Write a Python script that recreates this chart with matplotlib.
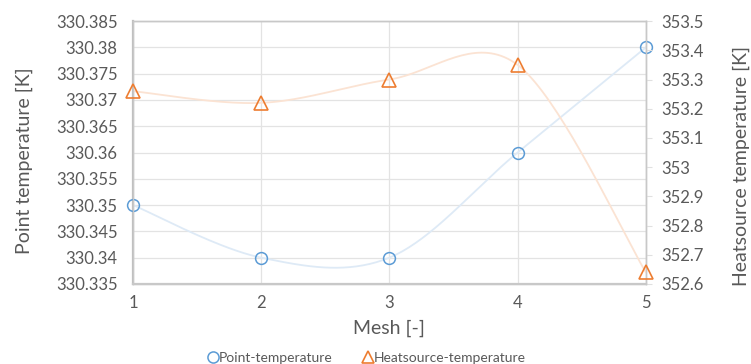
import matplotlib
matplotlib.use("Agg")
import matplotlib.pyplot as plt
from matplotlib.lines import Line2D
import numpy as np

plt.rcParams['font.family'] = ['Lato', 'DejaVu Sans']

mesh = [1, 2, 3, 4, 5]
point_temp = [330.35, 330.34, 330.34, 330.36, 330.38]
heat_temp = [353.26, 353.22, 353.30, 353.35, 352.64]

left_ticks = [330.335, 330.34, 330.345, 330.35, 330.355, 330.36, 330.365,
              330.37, 330.375, 330.38, 330.385]
left_labels = ['330.335', '330.34', '330.345', '330.35', '330.355', '330.36',
               '330.365', '330.37', '330.375', '330.38', '330.385']
right_ticks = [352.6, 352.7, 352.8, 352.9, 353.0, 353.1, 353.2, 353.3, 353.4, 353.5]
right_labels = ['352.6', '352.7', '352.8', '352.9', '353', '353.1', '353.2',
                '353.3', '353.4', '353.5']

txt = '#595959'
grid = '#e3e3e3'
blue = '#5b9bd5'
orange = '#ed7d31'


def smooth(x, y, n=40):
    # excel-like bezier smoothing (catmull-rom control points)
    x = np.asarray(x, float)
    y = np.asarray(y, float)
    px = np.concatenate([[x[0]], x, [x[-1]]])
    py = np.concatenate([[y[0]], y, [y[-1]]])
    xs, ys = [], []
    t = np.linspace(0, 1, n)
    for i in range(1, len(px) - 2):
        x0, x1, x2, x3 = px[i - 1], px[i], px[i + 1], px[i + 2]
        y0, y1, y2, y3 = py[i - 1], py[i], py[i + 1], py[i + 2]
        c1x, c1y = x1 + (x2 - x0) / 6, y1 + (y2 - y0) / 6
        c2x, c2y = x2 - (x3 - x1) / 6, y2 - (y3 - y1) / 6
        b = [(1 - t) ** 3, 3 * (1 - t) ** 2 * t, 3 * (1 - t) * t ** 2, t ** 3]
        xs.append(b[0] * x1 + b[1] * c1x + b[2] * c2x + b[3] * x2)
        ys.append(b[0] * y1 + b[1] * c1y + b[2] * c2y + b[3] * y2)
    return np.concatenate(xs), np.concatenate(ys)


fig = plt.figure(figsize=(7.51, 3.64), dpi=100)
ax = fig.add_axes([0.177, 0.22, 0.683, 0.722])
ax2 = ax.twinx()

sx, sy = smooth(mesh, point_temp)
ax.plot(sx, sy, color='#deeaf6', lw=1.3, zorder=2)
ax.plot(mesh, point_temp, 'o', ms=8.5, mfc='none', mec=blue, mew=1.1,
        clip_on=False, zorder=5)

sx2, sy2 = smooth(mesh, heat_temp)
ax2.plot(sx2, sy2, color='#fbe3d3', lw=1.3, zorder=2)
ax2.plot(mesh, heat_temp, '^', ms=9.5, mfc='none', mec=orange, mew=1.2,
         clip_on=False, zorder=5)

ax.set_xlim(1, 5)
ax.set_ylim(330.335, 330.385)
ax2.set_ylim(352.6, 353.5)
ax.set_xticks(mesh)
ax.set_xticklabels([str(m) for m in mesh])
ax.set_yticks(left_ticks)
ax.set_yticklabels(left_labels)
ax2.set_yticks(right_ticks)
ax2.set_yticklabels(right_labels)

ax.grid(True, color=grid, lw=0.9)
ax.set_axisbelow(True)

for a in (ax, ax2):
    for s in a.spines.values():
        s.set_color('#c8c8c8')
        s.set_linewidth(1.0)
ax.spines['left'].set_color('#bfbfbf')
ax.spines['left'].set_linewidth(1.6)
ax.spines['bottom'].set_linewidth(1.6)

ax.tick_params(axis='y', length=0, labelsize=12, colors=txt, pad=11)
ax.tick_params(axis='x', length=0, labelsize=12, colors=txt, pad=8)
ax2.tick_params(axis='y', length=4, width=0.8, color='#e0e0e0', labelsize=12,
                labelcolor=txt, pad=7)

ax.set_xlabel('Mesh [-]', fontsize=14, color=txt, labelpad=6)
ax.set_ylabel('Point temperature [K]', fontsize=14, color=txt)
ax.yaxis.set_label_coords(-0.195, 0.47)
ax2.set_ylabel('Heatsource temperature [K]', fontsize=14, color=txt)
ax2.yaxis.set_label_coords(1.17, 0.45)

handles = [Line2D([], [], ls='none', marker='o', ms=8, mfc='none', mec=blue, mew=1.1),
           Line2D([], [], ls='none', marker='^', ms=9, mfc='none', mec=orange, mew=1.2)]
fig.legend(handles, ['Point-temperature', 'Heatsource-temperature'],
           loc='lower center', bbox_to_anchor=(0.489, -0.035), ncol=2, frameon=False,
           fontsize=10, labelcolor=txt, handlelength=0.6, handletextpad=0.1,
           columnspacing=2.3)

fig.savefig('out.png', dpi=100)
